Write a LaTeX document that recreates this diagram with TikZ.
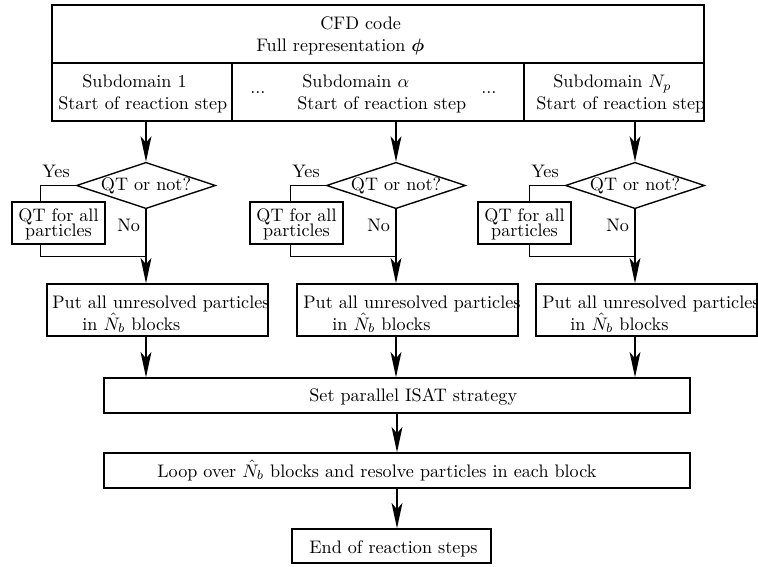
\documentclass[tikz,border=0pt]{standalone}
\usepackage{amsmath}
\usetikzlibrary{shapes.geometric,arrows.meta,calc}
\def\pxu{0.5515pt}
\tikzset{
  box/.style={draw, rectangle, inner sep=0pt, line width=0.75pt},
  dia/.style={draw, diamond, inner sep=0pt, aspect=3, line width=0.75pt,
              minimum width=135*\pxu, minimum height=45*\pxu},
  txt/.style={anchor=base west, inner sep=0pt},
  arr/.style={-{Stealth[length=14pt,width=6pt,inset=3.5pt]}, line width=0.75pt},
  ln/.style={line width=0.75pt}
}
\begin{document}
\begin{tikzpicture}[x=0.5515pt,y=-0.5515pt]
\useasboundingbox (0,0) rectangle (758,566);
% top block
\node[box, minimum width=652*\pxu, minimum height=58*\pxu] (top) at (378,34) {};
\node[box, minimum width=180*\pxu, minimum height=58*\pxu] (sub1) at (142,92) {};
\node[box, minimum width=292*\pxu, minimum height=58*\pxu] (sub2) at (378,92) {};
\node[box, minimum width=180*\pxu, minimum height=58*\pxu] (sub3) at (614,92) {};
\node[txt] (t1) at (320,30) {CFD code};
\node[txt] (t2) at (256,52) {Full representation $\boldsymbol{\phi}$};
\node[txt] (s1a) at (82,88) {Subdomain 1};
\node[txt] (s1b) at (58,110) {Start of reaction step};
\node[txt] (s2a) at (302,88) {Subdomain $\alpha$};
\node[txt] (s2b) at (297,110) {Start of reaction step};
\node[txt] (s3a) at (553,88) {Subdomain $N_p$};
\node[txt] (s3b) at (536,110) {Start of reaction step};
\node[txt] (dots1) at (250,94) {...};
\node[txt] (dots2) at (481,94) {...};
% diamonds
\node[dia] (d1) at (146,185.5) {QT or not?};
\node[dia] (d2) at (396,185.5) {QT or not?};
\node[dia] (d3) at (635,185.5) {QT or not?};
% QT boxes
\node[box, minimum width=93*\pxu, minimum height=42*\pxu] (q1) at (58.5,223) {};
\node[box, minimum width=93*\pxu, minimum height=42*\pxu] (q2) at (296.5,223) {};
\node[box, minimum width=93*\pxu, minimum height=42*\pxu] (q3) at (524.5,223) {};
\foreach \n/\cx in {1/58.5,2/296.5,3/524.5}{
  \node[anchor=base, inner sep=0pt] (qa\n) at (\cx,221.5) {QT for all};
  \node[anchor=base, inner sep=0pt] (qb\n) at (\cx,236) {particles};
}
\node[txt] (y1) at (42,178) {Yes};
\node[txt] (y2) at (292,178) {Yes};
\node[txt] (y3) at (531,178) {Yes};
\node[txt] (n1) at (117,231) {No};
\node[txt] (n2) at (367,231) {No};
\node[txt] (n3) at (606,231) {No};
% put boxes
\node[box, minimum width=221*\pxu, minimum height=52*\pxu] (p1) at (157.5,310) {};
\node[box, minimum width=221*\pxu, minimum height=52*\pxu] (p2) at (407.5,310) {};
\node[box, minimum width=221*\pxu, minimum height=52*\pxu] (p3) at (646.5,310) {};
\node[txt] (pa1) at (52,308) {Put all unresolved particles};
\node[txt] (pb1) at (82,330) {in $\hat{N}_b$ blocks};
\node[txt] (pa2) at (303,308) {Put all unresolved particles};
\node[txt] (pb2) at (332,330) {in $\hat{N}_b$ blocks};
\node[txt] (pa3) at (542,308) {Put all unresolved particles};
\node[txt] (pb3) at (570,330) {in $\hat{N}_b$ blocks};
% lower boxes
\node[box, minimum width=586*\pxu, minimum height=35*\pxu] (isat) at (397,395.5) {};
\node[txt] (isatt) at (309,401) {Set parallel ISAT strategy};
\node[box, minimum width=586*\pxu, minimum height=35*\pxu] (loop) at (397,470.5) {};
\node[txt] (loopt) at (157,477) {Loop over $\hat{N}_b$ blocks and resolve particles in each block};
\node[box, minimum width=199*\pxu, minimum height=34*\pxu] (end) at (391.5,546) {};
\node[txt] (endt) at (309,553) {End of reaction steps};
% connectors
\draw[arr] (d1.north |- sub1.south) -- (d1.north);
\draw[arr] (d2.north |- sub2.south) -- (d2.north);
\draw[arr] (d3.north |- sub3.south) -- (d3.north);
\draw[ln] (d1.west) -| ($(q1.north west)+(29,0)$);
\draw[ln] (d2.west) -| ($(q2.north west)+(41,0)$);
\draw[ln] (d3.west) -| ($(q3.north west)+(52,0)$);
\draw[ln] ($(q1.south west)+(29,0)$) |- ($(d1.south)+(0,47)$);
\draw[ln] ($(q2.south west)+(41,0)$) |- ($(d2.south)+(0,47)$);
\draw[ln] ($(q3.south west)+(52,0)$) |- ($(d3.south)+(0,47)$);
\draw[arr] (d1.south) -- (d1.south |- p1.north);
\draw[arr] (d2.south) -- (d2.south |- p2.north);
\draw[arr] (d3.south) -- (d3.south |- p3.north);
\draw[arr] (d1.south |- p1.south) -- (d1.south |- isat.north);
\draw[arr] (d2.south |- p2.south) -- (d2.south |- isat.north);
\draw[arr] (d3.south |- p3.south) -- (d3.south |- isat.north);
\draw[arr] (isat.south) -- (loop.north);
\draw[arr] (loop.south) -- (loop.south |- end.north);
\end{tikzpicture}
\end{document}
